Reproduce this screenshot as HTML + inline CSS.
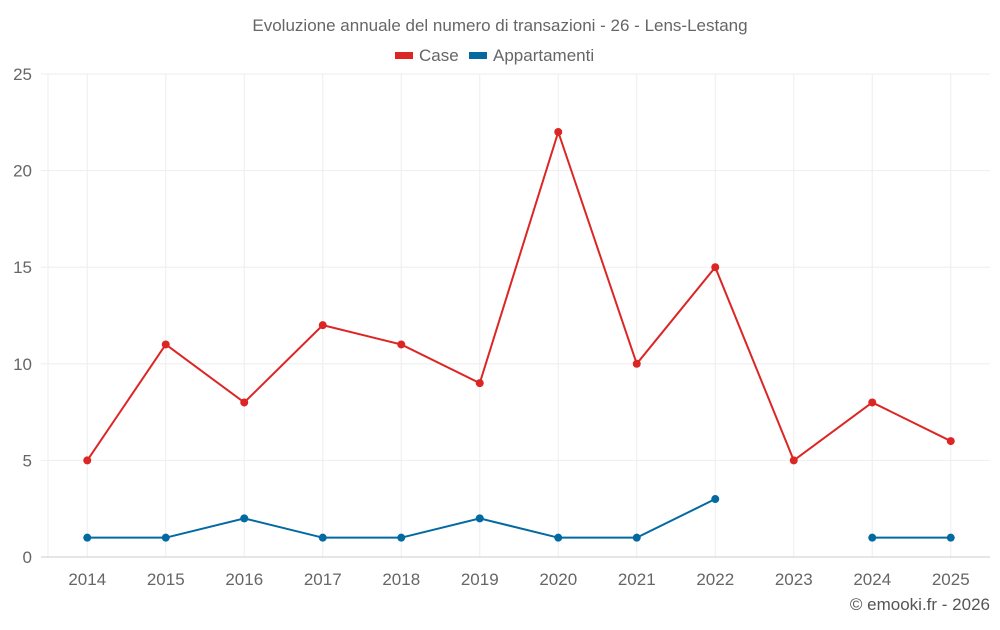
<!DOCTYPE html>
<html><head><meta charset="utf-8">
<style>
body{margin:0;background:#fff;font-family:"Liberation Sans",Roboto,sans-serif;}
svg text{font-family:"Liberation Sans",sans-serif;}
</style></head>
<body>
<svg id="chart" width="1000" height="625" viewBox="0 0 1000 625" xmlns="http://www.w3.org/2000/svg">
<text x="500" y="31" text-anchor="middle" font-size="17" fill="#666">Evoluzione annuale del numero di transazioni - 26 - Lens-Lestang</text>
<g>
<g><rect x="395" y="52" width="18" height="7" fill="#dc2626"/><text x="419" y="61" font-size="17" fill="#666">Case</text></g>
<g><rect x="469" y="52" width="18" height="7" fill="#0369a1"/><text x="493" y="61" font-size="17" fill="#666">Appartamenti</text></g>
</g>
<g id="grid"></g>
<g id="axes"></g>
<g id="series"></g>
<text x="990" y="610" text-anchor="end" font-size="17" fill="#555">© emooki.fr - 2026</text>
</svg>
<script>
const categories=["2014","2015","2016","2017","2018","2019","2020","2021","2022","2023","2024","2025"];
const caseValues=[5,11,8,12,11,9,22,10,15,5,8,6];
const appartamentiValues=[1,1,2,1,1,2,1,1,3,null,1,1];
const yTicks=[0,5,10,15,20,25];
const NS="http://www.w3.org/2000/svg";
const L=48,R=990,T=74,B=557,yMax=25;
const band=(R-L)/categories.length;
const x=i=>L+band*(i+0.5);
const y=v=>B-(B-T)*v/yMax;
function mk(tag,attrs,parent){const e=document.createElementNS(NS,tag);for(const k in attrs)e.setAttribute(k,attrs[k]);parent.appendChild(e);return e;}
const grid=document.getElementById('grid'),axes=document.getElementById('axes'),series=document.getElementById('series');
const lb=mk('line',{x1:L,x2:L,y1:T,y2:B,stroke:'#eee','stroke-width':1},grid);


categories.forEach((c,i)=>{
  const l=mk('line',{x1:x(i),x2:x(i),y1:T,y2:B,stroke:'#eee','stroke-width':1},grid);
  
  
});
yTicks.forEach(t=>{
  const l=mk('line',{x1:41,x2:R,y1:y(t),y2:y(t),stroke:t===0?'#ccc':'#eee','stroke-width':1},grid);
  
  
  const tx=mk('text',{x:32,y:y(t)+6,'text-anchor':'end','font-size':17,fill:'#666'},axes);
  tx.textContent=t;
  
  
});
categories.forEach((c,i)=>{
  const tx=mk('text',{x:x(i),y:585,'text-anchor':'middle','font-size':17,fill:'#666'},axes);
  tx.textContent=c;
  
  
});
function draw(vals,color,name){
  const g=mk('g',{},series);
  
  
  let d='',pen=false;
  vals.forEach((v,i)=>{if(v==null){pen=false;return;}d+=(pen?'L':'M')+x(i)+' '+y(v)+' ';pen=true;});
  const p=mk('path',{d:d,fill:'none',stroke:color,'stroke-width':2},g);
  
  
  vals.forEach((v,i)=>{if(v==null)return;
    const c=mk('circle',{cx:x(i),cy:y(v),r:4,fill:color},g);
    
    
  });
}
draw(caseValues,'#dc2626','case');
draw(appartamentiValues,'#0369a1','appartamenti');
</script>
</body></html>
